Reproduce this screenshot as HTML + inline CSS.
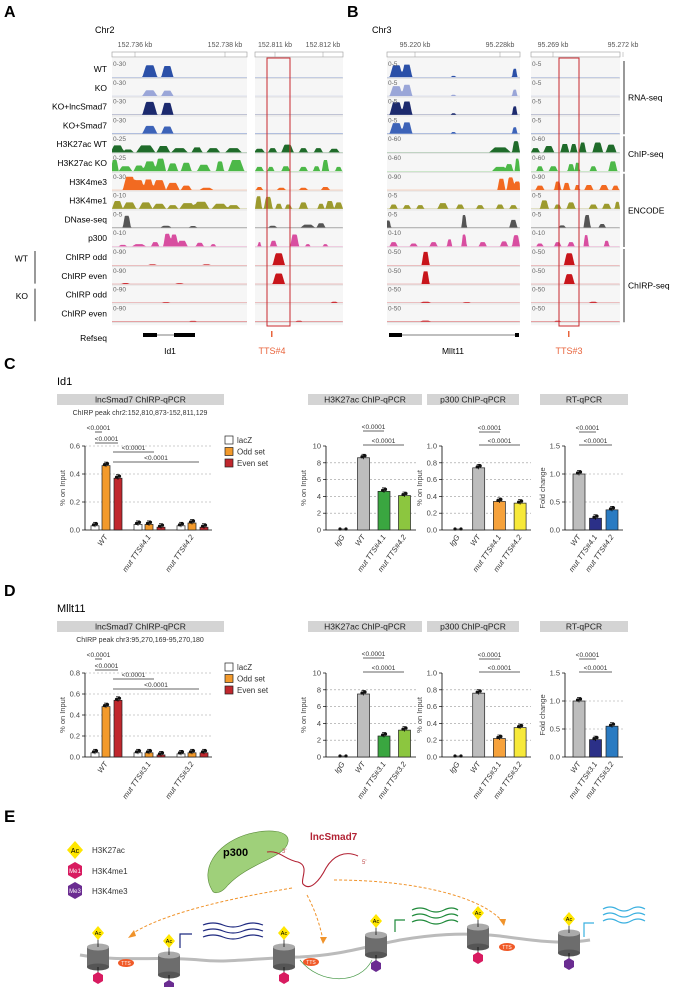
<!DOCTYPE html>
<html><head><meta charset="utf-8"><style>
html,body{margin:0;padding:0;background:#fff}
svg{display:block;font-family:"Liberation Sans",sans-serif}
</style></head><body>
<svg id="fig" width="686" height="987" viewBox="0 0 686 987" xmlns="http://www.w3.org/2000/svg">
<g id="gA"></g>
<g id="gB"></g>
<g id="gC"></g>
<g id="gD"></g>
<g id="gE">
  <text x="4" y="822" font-size="17" font-weight="bold">E</text>
  <g font-size="8">
    <polygon points="75,841 83,850 75,859 67,850" fill="#ffe600"/>
    <text x="75" y="853" font-size="7" text-anchor="middle">Ac</text>
    <text x="92" y="853" fill="#333">H3K27ac</text>
    <polygon points="75,862 82,866 82,875 75,879 68,875 68,866" fill="#d81b60"/>
    <text x="75" y="873" font-size="6" fill="#fff" text-anchor="middle">Me1</text>
    <text x="92" y="874" fill="#333">H3K4me1</text>
    <polygon points="75,882 82,886 82,895 75,899 68,895 68,886" fill="#6a2c91"/>
    <text x="75" y="893" font-size="6" fill="#fff" text-anchor="middle">Me3</text>
    <text x="92" y="894" fill="#333">H3K4me3</text>
  </g>
  <path d="M212,890 C200,870 215,845 245,835 C268,828 290,830 288,842 C285,858 250,862 228,885 C222,893 214,895 212,890 Z" fill="#9fd07a" stroke="#5a8a3a" stroke-width="0.6"/>
  <text x="223" y="856" font-size="11" font-weight="bold">p300</text>
  <text x="310" y="840" font-size="10" font-weight="bold" fill="#b22234">lncSmad7</text>
  <path d="M267,852 C280,850 285,860 298,862 C310,866 300,880 303,884 C310,892 320,880 326,868 C333,856 345,850 358,856" fill="none" stroke="#b22234" stroke-width="1.1"/>
  <text x="282" y="853" font-size="6" fill="#c05050">3'</text>
  <text x="362" y="864" font-size="6" fill="#c05050">5'</text>
  <g fill="none" stroke="#f0932b" stroke-width="1" stroke-dasharray="3,2">
    <path d="M292,888 C220,900 160,915 130,935"/>
    <path d="M307,895 C315,910 320,925 323,940"/>
    <path d="M334,880 C410,880 480,895 503,922"/>
  </g>
  <g fill="#f0932b">
    <polygon points="128,938 134,930 136,936"/><polygon points="323,944 320,937 327,937"/><polygon points="504,926 499,919 506,919"/>
  </g>
  <g>
    <path d="M80,955 C120,962 160,956 200,960 C230,963 255,958 300,957 C340,955 360,948 400,940 C430,935 460,932 500,936 C530,940 560,945 590,940" fill="none" stroke="#bbb" stroke-width="3"/>
    <path d="M300,960 C320,985 360,985 372,960" fill="none" stroke="#4a9a4a" stroke-width="0.7"/>
  </g>
  <g id="nucs"></g>
  <g fill="none" stroke-width="1.2">
    <path d="M203,925 q10,-4 20,0 t20,0 t20,0 M203,931 q10,-4 20,0 t20,0 t20,0 M203,937 q10,-4 20,0 t20,0 t20,0" stroke="#1f2a80"/>
    <path d="M180,948 v-14 h12" stroke="#1f2a80"/>
    <path d="M412,910 q8,-4 16,0 t16,0 t14,0 M412,916 q8,-4 16,0 t16,0 t14,0 M412,922 q8,-4 16,0 t16,0 t14,0" stroke="#1f8a3a"/>
    <path d="M395,932 v-12 h10" stroke="#1f8a3a"/>
    <path d="M603,909 q7,-4 14,0 t14,0 t14,0 M603,915 q7,-4 14,0 t14,0 t14,0 M603,921 q7,-4 14,0 t14,0 t14,0" stroke="#3ab0e0"/>
    <path d="M584,937 v-14 h10" stroke="#3ab0e0"/>
  </g>
</g>
</svg>
<script>
var NS='http://www.w3.org/2000/svg';
function mk(parent,tag,attrs,txt){var e=document.createElementNS(NS,tag);for(var k in attrs)e.setAttribute(k,attrs[k]);if(txt!==undefined)e.textContent=txt;parent.appendChild(e);return e;}

/* ---------- Genome track data (peaks: [centerFrac, halfWidthFrac, heightFrac]) ---------- */
var trackLabelsA=['WT','KO','KO+lncSmad7','KO+Smad7','H3K27ac WT','H3K27ac KO','H3K4me3','H3K4me1','DNase-seq','p300','ChIRP odd','ChIRP even','ChIRP odd','ChIRP even'];
var trackColors=['#2b50a8','#9aa6d8','#1c2a6e','#3d63b8','#1f6b2a','#4cb848','#f26a21','#9c9a2e','#555555','#d84ea0','#c8151b','#c8151b','#c8151b','#c8151b'];
var scalesA=['0-30','0-30','0-30','0-30','0-25','0-25','0-30','0-10','0-5','0-10','0-90','0-90','0-90','0-90'];
var scalesB=['0-5','0-5','0-5','0-5','0-60','0-60','0-90','0-5','0-5','0-10','0-50','0-50','0-50','0-50'];
var peaksAL=[
 [[.28,.055,.85],[.41,.045,.8]],
 [[.28,.055,.4],[.41,.045,.38]],
 [[.28,.055,.92],[.41,.045,.85]],
 [[.28,.055,.55],[.41,.045,.5]],
 [[.04,.05,.5],[.12,.04,.2],[.25,.07,.5],[.38,.05,.45],[.5,.06,.3],[.63,.04,.35],[.75,.05,.3],[.9,.06,.3]],
 [[.02,.03,.8],[.1,.05,.35],[.2,.04,.4],[.28,.05,.7],[.36,.04,.9],[.45,.04,.55],[.55,.04,.6],[.68,.05,.45],[.8,.03,.7],[.92,.06,.8]],
 [[.13,.05,.95],[.2,.04,.7],[.27,.04,.75],[.35,.05,.7],[.45,.05,.5],[.55,.04,.3],[.7,.05,.15]],
 [[.04,.04,.55],[.13,.05,.45],[.25,.05,.45],[.35,.05,.35],[.45,.04,.25],[.56,.06,.4],[.66,.06,.5],[.8,.06,.35],[.9,.05,.25]],
 [[.11,.03,.85],[.4,.04,.12],[.6,.03,.1]],
 [[.08,.03,.1],[.2,.05,.15],[.32,.03,.3],[.41,.03,.9],[.46,.03,.85],[.52,.04,.4],[.65,.03,.25],[.75,.02,.15]],
 [[.3,.03,.05],[.7,.03,.05]],[[.1,.03,.05],[.5,.03,.04]],[[.4,.03,.04]],[[.6,.03,.04]]
];
var peaksAR=[
 [],[],[],[],
 [[.05,.06,.25],[.2,.05,.3],[.37,.07,.55],[.55,.05,.3],[.72,.05,.3],[.9,.06,.25]],
 [[.05,.05,.3],[.18,.04,.3],[.35,.05,.35],[.55,.05,.3],[.7,.04,.35],[.8,.04,.8],[.95,.04,.3]],
 [[.05,.04,.2],[.3,.05,.15],[.55,.05,.15],[.8,.05,.2]],
 [[.04,.04,.9],[.15,.05,.85],[.27,.04,.35],[.38,.04,.3],[.55,.05,.45],[.75,.04,.35],[.85,.05,.55],[.95,.05,.45]],
 [[.2,.05,.12],[.6,.08,.2],[.75,.05,.3]],
 [[.05,.02,.3],[.21,.04,.4],[.45,.05,.85],[.6,.03,.15],[.8,.03,.15]],
 [[.27,.07,.85]],[[.27,.07,.75]],[[.9,.04,.06]],[[.5,.04,.05]]
];
var peaksBL=[
 [[.07,.05,.85],[.15,.04,.9],[.5,.02,.08],[.96,.02,.6]],
 [[.07,.05,.7],[.15,.04,.8],[.5,.02,.08],[.96,.02,.45]],
 [[.07,.05,.9],[.15,.04,.95],[.5,.02,.1],[.96,.02,.6]],
 [[.07,.05,.75],[.15,.04,.8],[.5,.02,.1],[.96,.02,.45]],
 [[.85,.08,.35],[.97,.03,.8]],
 [[.85,.06,.3],[.92,.03,.5],[.98,.02,.9]],
 [[.86,.03,.8],[.93,.03,.9],[.98,.03,.6]],
 [[.05,.03,.3],[.15,.03,.25],[.25,.03,.25],[.42,.04,.4],[.55,.03,.3],[.7,.03,.25],[.85,.03,.3],[.95,.03,.25]],
 [[.01,.02,.5],[.58,.02,.9],[.95,.03,.55]],
 [[.05,.03,.3],[.2,.03,.2],[.35,.03,.3],[.47,.02,.5],[.58,.02,.85],[.72,.03,.3],[.88,.03,.35],[.97,.03,.8]],
 [[.29,.03,.95]],[[.29,.03,.9]],[[.29,.04,.06],[.6,.03,.04]],[[.29,.04,.06]]
];
var peaksBR=[
 [],[],[],[],
 [[.05,.05,.3],[.2,.06,.45],[.38,.05,.6],[.48,.04,.6],[.58,.04,.7],[.75,.06,.7],[.9,.06,.55]],
 [[.1,.04,.35],[.25,.05,.35],[.45,.04,.5],[.52,.03,.6],[.7,.04,.35],[.92,.05,.7]],
 [[.1,.05,.3],[.3,.04,.6],[.4,.04,.5],[.52,.03,.35],[.65,.05,.35],[.82,.05,.35],[.95,.04,.3]],
 [[.15,.05,.6],[.3,.04,.3],[.45,.05,.45],[.7,.05,.3],[.85,.05,.35],[.97,.03,.5]],
 [[.35,.04,.15],[.63,.04,.9],[.8,.04,.25]],
 [[.1,.04,.2],[.3,.04,.3],[.45,.04,.3],[.62,.03,.8],[.85,.03,.4]],
 [[.43,.06,.85]],[[.43,.06,.7]],[[.7,.05,.06]],[[.3,.04,.05]]
];

var ROW0=60, ROWH=18.8;
function drawRegion(g,x0,x1,peaks,scales,showScale){
  mk(g,'rect',{x:x0,y:ROW0-2,width:x1-x0,height:ROWH*14+4,fill:'#f6f6f6'});
  for(var r=0;r<14;r++){
    var top=ROW0+r*ROWH, base=top+ROWH-1.5, h=ROWH-5;
    mk(g,'line',{x1:x0,x2:x1,y1:base+1,y2:base+1,stroke:'#d8d8d8','stroke-width':0.6});
    var d='M'+x0+','+base;
    for(var x=x0;x<=x1;x+=0.75){
      var f=(x-x0)/(x1-x0), v=0.02;
      peaks[r].forEach(function(p){var dd=Math.abs(f-p[0]);if(dd<p[1]){var s=Math.min(1,(p[1]-dd)/(p[1]*0.5));v+=p[2]*s;}});
      if(v>1)v=1;
      d+=' L'+x.toFixed(2)+','+(base-v*h).toFixed(2);
    }
    d+=' L'+x1+','+base+' Z';
    var p=mk(g,'path',{d:d,fill:trackColors[r]});
    
    
    if(showScale){var t=mk(g,'text',{x:x0+1,y:top+6,'font-size':6.5,fill:'#666'},scales[r]);
      }
  }
}
function ruler(g,x0,x1,labels){
  mk(g,'rect',{x:x0,y:52,width:x1-x0,height:5,fill:'#fff',stroke:'#999','stroke-width':0.6});
  labels.forEach(function(l){var t=mk(g,'text',{x:l[0],y:47,'font-size':7,fill:'#555','text-anchor':'middle'},l[1]);
    
    mk(g,'line',{x1:l[0],x2:l[0],y1:52,y2:57,stroke:'#999','stroke-width':0.5});});
}
var gA=document.getElementById('gA'), gB=document.getElementById('gB');
mk(gA,'text',{x:4,y:17,'font-size':16,'font-weight':'bold'},'A');
mk(gA,'text',{x:95,y:33,'font-size':9},'Chr2');
ruler(gA,112,247,[[135,'152.736 kb'],[225,'152.738 kb']]);
ruler(gA,255,343,[[275,'152.811 kb'],[323,'152.812 kb']]);
drawRegion(gA,112,247,peaksAL,scalesA,true);
drawRegion(gA,255,343,peaksAR,scalesA,false);
trackLabelsA.forEach(function(l,r){
  var t=mk(gA,'text',{x:107,y:ROW0+r*ROWH+12,'font-size':8.5,'text-anchor':'end'},l);
  
});
mk(gA,'text',{x:28,y:ROW0+10.5*ROWH+4,'font-size':8.5,'text-anchor':'end'},'WT');
mk(gA,'line',{x1:35,x2:35,y1:ROW0+10*ROWH+3,y2:ROW0+12*ROWH-2,stroke:'#000','stroke-width':0.8});
mk(gA,'text',{x:28,y:ROW0+12.5*ROWH+4,'font-size':8.5,'text-anchor':'end'},'KO');
mk(gA,'line',{x1:35,x2:35,y1:ROW0+12*ROWH+3,y2:ROW0+14*ROWH-2,stroke:'#000','stroke-width':0.8});
mk(gA,'rect',{x:267,y:58,width:23,height:268,fill:'none',stroke:'#c8282d','stroke-width':1});
mk(gA,'text',{x:107,y:341,'font-size':8.5,'text-anchor':'end'},'Refseq');
mk(gA,'line',{x1:143,x2:195,y1:335,y2:335,stroke:'#000','stroke-width':0.6});
mk(gA,'rect',{x:143,y:333,width:14,height:4});mk(gA,'rect',{x:174,y:333,width:21,height:4});
mk(gA,'text',{x:170,y:354,'font-size':8.5,'text-anchor':'middle'},'Id1');
mk(gA,'rect',{x:271,y:331,width:1.5,height:6,fill:'#e8643c'});
mk(gA,'text',{x:272,y:354,'font-size':9,'text-anchor':'middle',fill:'#e8643c'},'TTS#4');

mk(gB,'text',{x:347,y:17,'font-size':16,'font-weight':'bold'},'B');
mk(gB,'text',{x:372,y:33,'font-size':9},'Chr3');
ruler(gB,387,520,[[415,'95.220 kb'],[500,'95.228kb']]);
ruler(gB,531,620,[[553,'95.269 kb'],[623,'95.272 kb']]);
drawRegion(gB,387,520,peaksBL,scalesB,true);
drawRegion(gB,531,620,peaksBR,scalesB,true);
mk(gB,'rect',{x:559,y:58,width:20,height:268,fill:'none',stroke:'#c8282d','stroke-width':1});
[[0,4,'RNA-seq'],[4,6,'ChIP-seq'],[6,10,'ENCODE'],[10,14,'ChIRP-seq']].forEach(function(b){
  mk(gB,'line',{x1:624,x2:624,y1:ROW0+b[0]*ROWH+1,y2:ROW0+b[1]*ROWH-1,stroke:'#000','stroke-width':0.8});
  var t=mk(gB,'text',{x:628,y:ROW0+(b[0]+b[1])/2*ROWH+3,'font-size':8.5},b[2]);
  
});
mk(gB,'line',{x1:389,x2:519,y1:335,y2:335,stroke:'#000','stroke-width':0.6});
mk(gB,'rect',{x:389,y:333,width:13,height:4});mk(gB,'rect',{x:515,y:333,width:4,height:4});
mk(gB,'text',{x:453,y:354,'font-size':8.5,'text-anchor':'middle'},'Mllt11');
mk(gB,'rect',{x:568,y:331,width:1.5,height:6,fill:'#e8643c'});
mk(gB,'text',{x:569,y:354,'font-size':9,'text-anchor':'middle',fill:'#e8643c'},'TTS#3');

/* ---------- Bar chart data ---------- */
var chirpCatsC=['WT','mut TTS#4.1','mut TTS#4.2'];
var chirpLacZC=[0.03,0.04,0.03];
var chirpOddC=[0.46,0.04,0.05];
var chirpEvenC=[0.37,0.02,0.02];
var h3CatsC=['IgG','WT','mut TTS#4.1','mut TTS#4.2'];
var h3ValsC=[0,8.6,4.6,4.1];
var p300ValsC=[0,0.74,0.34,0.32];
var rtCatsC=['WT','mut TTS#4.1','mut TTS#4.2'];
var rtValsC=[1,0.21,0.36];

var chirpCatsD=['WT','mut TTS#3.1','mut TTS#3.2'];
var chirpLacZD=[0.04,0.04,0.03];
var chirpOddD=[0.48,0.04,0.04];
var chirpEvenD=[0.54,0.02,0.04];
var h3CatsD=['IgG','WT','mut TTS#3.1','mut TTS#3.2'];
var h3ValsD=[0,7.5,2.5,3.2];
var p300ValsD=[0,0.76,0.22,0.35];
var rtCatsD=['WT','mut TTS#3.1','mut TTS#3.2'];
var rtValsD=[1,0.31,0.55];

var chirpTicksC=[0,0.2,0.4,0.6];
var chirpTicksD=[0,0.2,0.4,0.6,0.8];
var h3Ticks=[0,2,4,6,8,10];
var p300Ticks=[0,0.2,0.4,0.6,0.8,1.0];
var rtTicks=[0,0.5,1.0,1.5];

function fmt(v,dec){return dec===0?String(v):v.toFixed(dec);}
function axis(g,ax,x1,yTop,yBot,max,ticks,dec,ylab,grid){
  var sy=function(v){return yBot-(v/max)*(yBot-yTop);};
  ticks.forEach(function(t){
    var y=sy(t);
    mk(g,'line',{x1:ax-3,x2:ax,y1:y,y2:y,stroke:'#000','stroke-width':0.7});
    var tl=mk(g,'text',{x:ax-5,y:y+2.5,'font-size':7.5,'text-anchor':'end',fill:'#444'},fmt(t,dec));
    
    if(t>0&&grid.indexOf(t)>=0) mk(g,'line',{x1:ax,x2:x1,y1:y,y2:y,stroke:'#999','stroke-width':0.6,'stroke-dasharray':'2,2'});
  });
  mk(g,'line',{x1:ax,x2:ax,y1:yTop,y2:yBot,stroke:'#000','stroke-width':0.8});
  mk(g,'line',{x1:ax,x2:x1,y1:yBot,y2:yBot,stroke:'#000','stroke-width':0.8});
  var yl=mk(g,'text',{x:0,y:0,'font-size':7.5,'text-anchor':'middle',fill:'#444',transform:'translate('+(ax-20)+','+((yTop+yBot)/2)+') rotate(-90)'},ylab);
  
  return sy;
}
function bar(g,x,w,v,sy,yBot,color,name){
  var b=mk(g,'rect',{x:x-w/2,y:sy(v),width:w,height:Math.max(0.5,yBot-sy(v)),fill:color,stroke:'#222','stroke-width':0.7});
  
  var e=Math.max(0.02*(yBot-sy(v)),1.5);
  mk(g,'line',{x1:x,x2:x,y1:sy(v)-e-2,y2:sy(v)+e,stroke:'#000','stroke-width':0.7});
  mk(g,'line',{x1:x-2,x2:x+2,y1:sy(v)-e-2,y2:sy(v)-e-2,stroke:'#000','stroke-width':0.7});
  mk(g,'circle',{cx:x-1.5,cy:sy(v)-1,r:1.6,fill:'#111'});
  mk(g,'circle',{cx:x+1.5,cy:sy(v)-2,r:1.6,fill:'#111'});
}
function xlabel(g,x,y,txt){
  var t=mk(g,'text',{x:0,y:0,'font-size':7.5,'font-style':'italic','text-anchor':'end',fill:'#333',transform:'translate('+(x+2)+','+(y+7)+') rotate(-55)'},txt);
  
}
function sig(g,xa,xb,y){
  mk(g,'line',{x1:xa,x2:xb,y1:y,y2:y,stroke:'#333','stroke-width':0.8});
  var t=mk(g,'text',{x:(xa+xb)/2,y:y-2,'font-size':6.5,'text-anchor':'middle',fill:'#333'},'<0.0001');
  
}
function header(g,x0,x1,y,txt){
  var r=mk(g,'rect',{x:x0,y:y,width:x1-x0,height:11,fill:'#d4d4d4'});
  
  mk(g,'text',{x:(x0+x1)/2,y:y+8.5,'font-size':8.5,'text-anchor':'middle',fill:'#222'},txt);
}
function panel(g,off,letter,gene,peak,cats,lacZ,odd,even,cmax,cticks,h3cats,h3,p3,rtcats,rt){
  mk(g,'text',{x:4,y:off-9,'font-size':16,'font-weight':'bold'},letter);
  mk(g,'text',{x:57,y:off+7,'font-size':11},gene);
  var yTop=off+68, yBot=off+152;
  header(g,57,224,off+16,'lncSmad7 ChIRP-qPCR');
  mk(g,'text',{x:140,y:off+37,'font-size':7,'text-anchor':'middle',fill:'#333'},peak);
  var ticks=cticks;
  var sy=axis(g,85,212,yTop,yBot,cmax,ticks,1,'% on Input',ticks);
  var centers=[106,149,192];
  cats.forEach(function(c,i){
    bar(g,centers[i]-11,8,lacZ[i],sy,yBot,'#ffffff','bar-lacz-'+i);
    bar(g,centers[i],8,odd[i],sy,yBot,'#f39a2b','bar-odd-'+i);
    bar(g,centers[i]+12,8,even[i],sy,yBot,'#c0272d','bar-even-'+i);
    xlabel(g,centers[i],yBot,c);
  });
  sig(g,95,102,yTop-14);sig(g,95,118,yTop-3);sig(g,113,154,yTop+6);sig(g,113,199,yTop+16);
  [['lacZ','#fff'],['Odd set','#f39a2b'],['Even set','#c0272d']].forEach(function(l,i){
    mk(g,'rect',{x:225,y:yTop-10+i*11.5,width:8,height:8,fill:l[1],stroke:'#222','stroke-width':0.7});
    var t=mk(g,'text',{x:237,y:yTop-3+i*11.5,'font-size':8,fill:'#333'},l[0]);
    
  });
  header(g,308,422,off+16,'H3K27ac ChIP-qPCR');
  header(g,427,519,off+16,'p300 ChIP-qPCR');
  header(g,540,628,off+16,'RT-qPCR');
  var s2=axis(g,326,416,yTop,yBot,10,h3Ticks,0,'% on Input',[2,4,6,8]);
  var h3col=['#bdbdbd','#bdbdbd','#3aa640','#8cc63f'];
  h3cats.forEach(function(c,i){var x=343+i*20.5;
    if(h3[i]>0.05) bar(g,x,12,h3[i],s2,yBot,h3col[i],'bar-h3k27ac-'+i);
    else {mk(g,'circle',{cx:x-3,cy:yBot-1,r:1.6,fill:'#111'});mk(g,'circle',{cx:x+3,cy:yBot-1,r:1.6,fill:'#111'});mk(g,'line',{x1:x-4,x2:x+4,y1:yBot-1,y2:yBot-1,stroke:'#111','stroke-width':0.6});}
    xlabel(g,x,yBot,c);});
  sig(g,363,384,yTop-15);sig(g,363,404,yTop-1);
  var s3=axis(g,442,531,yTop,yBot,1.0,p300Ticks,1,'% on Input',[0.2,0.4,0.6,0.8]);
  var pcol=['#bdbdbd','#bdbdbd','#f6a23c','#f7e93a'];
  h3cats.forEach(function(c,i){var x=458+i*20.7;
    if(p3[i]>0.005) bar(g,x,12,p3[i],s3,yBot,pcol[i],'bar-p300-'+i);
    else {mk(g,'circle',{cx:x-3,cy:yBot-1,r:1.6,fill:'#111'});mk(g,'circle',{cx:x+3,cy:yBot-1,r:1.6,fill:'#111'});mk(g,'line',{x1:x-4,x2:x+4,y1:yBot-1,y2:yBot-1,stroke:'#111','stroke-width':0.6});}
    xlabel(g,x,yBot,c);});
  sig(g,479,500,yTop-14);sig(g,479,520,yTop-1);
  var s4=axis(g,565,623,yTop,yBot,1.5,rtTicks,1,'Fold change',[0.5,1.0]);
  var rcol=['#bdbdbd','#2b3088','#2a7bc2'];
  rtcats.forEach(function(c,i){var x=579+i*16.5;bar(g,x,12,rt[i],s4,yBot,rcol[i],'bar-rt-'+i);xlabel(g,x,yBot,c);});
  sig(g,579,596,yTop-14);sig(g,579,612,yTop-1);
}
panel(document.getElementById('gC'),378,'C','Id1','ChIRP peak chr2:152,810,873-152,811,129',chirpCatsC,chirpLacZC,chirpOddC,chirpEvenC,0.6,chirpTicksC,h3CatsC,h3ValsC,p300ValsC,rtCatsC,rtValsC);
panel(document.getElementById('gD'),605,'D','Mllt11','ChIRP peak chr3:95,270,169-95,270,180',chirpCatsD,chirpLacZD,chirpOddD,chirpEvenD,0.8,chirpTicksD,h3CatsD,h3ValsD,p300ValsD,rtCatsD,rtValsD);

/* ---------- Panel E nucleosomes ---------- */
var nucX=[98,169,284,376,478,569];
var nucY=[957,965,957,945,937,943];
var nucMark=['me1','me3','me1','me3','me1','me3'];
var ng=document.getElementById('nucs');
nucX.forEach(function(x,i){
  var y=nucY[i];
  var n=mk(ng,'g',{});
  
  
  mk(n,'rect',{x:x-11,y:y-10,width:22,height:20,fill:'#6d6d6d'});
  mk(n,'ellipse',{cx:x,cy:y+10,rx:11,ry:3.5,fill:'#555'});
  mk(n,'ellipse',{cx:x,cy:y-10,rx:11,ry:3.5,fill:'#aaa'});
  mk(n,'line',{x1:x,x2:x,y1:y-10,y2:y-22,stroke:'#000','stroke-width':0.7});
  mk(n,'polygon',{points:(x)+','+(y-31)+' '+(x+6)+','+(y-24)+' '+x+','+(y-17)+' '+(x-6)+','+(y-24),fill:'#ffe600'});
  mk(n,'text',{x:x,y:y-22,'font-size':5.5,'text-anchor':'middle'},'Ac');
  var c=nucMark[i]==='me1'?'#d81b60':'#6a2c91';
  mk(n,'line',{x1:x,x2:x,y1:y+10,y2:y+16,stroke:'#000','stroke-width':0.7});
  mk(n,'polygon',{points:x+','+(y+15)+' '+(x+5)+','+(y+18)+' '+(x+5)+','+(y+24)+' '+x+','+(y+27)+' '+(x-5)+','+(y+24)+' '+(x-5)+','+(y+18),fill:c});
});
[[126,963],[311,962],[507,947]].forEach(function(p){
  var o=mk(ng,'ellipse',{cx:p[0],cy:p[1],rx:8,ry:4,fill:'#f05a28'});
  
  mk(ng,'text',{x:p[0],y:p[1]+2,'font-size':5,'text-anchor':'middle',fill:'#fff'},'TTS');
});
</script>
</body></html>
